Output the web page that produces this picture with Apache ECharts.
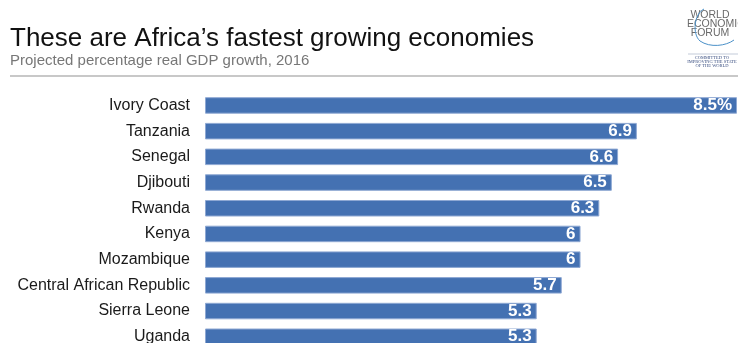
<!DOCTYPE html>
<html>
<head>
<meta charset="utf-8">
<script src="https://cdn.jsdelivr.net/npm/echarts@6/dist/echarts.min.js"></script>
<style>
html,body{margin:0;padding:0;background:#fff;}
#chart{width:738px;height:343px;}
</style>
</head>
<body>
<div id="chart"></div>
<script>
const countries = ["Ivory Coast","Tanzania","Senegal","Djibouti","Rwanda","Kenya","Mozambique","Central African Republic","Sierra Leone","Uganda"];
const growth = [8.5, 6.9, 6.6, 6.5, 6.3, 6, 6, 5.7, 5.3, 5.3];
const titleText = "These are Africa\u2019s fastest growing economies";
const subtitleText = "Projected percentage real GDP growth, 2016";

const chart = echarts.init(document.getElementById('chart'), null, {renderer:'canvas'});
const font = '"Liberation Sans", Arial, Helvetica, sans-serif';
const serif = '"Liberation Serif", serif';
chart.setOption({
  animation:false,
  backgroundColor:'#ffffff',
  textStyle:{fontFamily:font},
  grid:{left:205, width:532, top:92.6, height:257, containLabel:false, outerBoundsMode:'none'},
  xAxis:{type:'value', min:0, max:8.5, show:false},
  yAxis:{type:'category', data:countries, inverse:true,
    axisLine:{show:false}, axisTick:{show:false}, splitLine:{show:false},
    axisLabel:{fontSize:16, color:'#1a1a1a', margin:15, fontFamily:font}},
  series:[{
    type:'bar', data:growth, barWidth:16.5,
    itemStyle:{color:'#4471b2', borderColor:'#8ea8d3', borderWidth:1},
    label:{show:true, position:'insideRight', distance:5, color:'#ffffff',
      fontSize:17, fontWeight:'bold', fontFamily:font,
      formatter:function(p){return p.dataIndex===0 ? p.value+'%' : String(p.value);}}
  }],
  graphic:{elements:[
    {type:'text', x:10, y:26, style:{text:titleText, fontSize:26, fill:'#111', fontFamily:font, verticalAlign:'top'}},
    {type:'text', x:10, y:53, style:{text:subtitleText, fontSize:15, fill:'#777', fontFamily:font, verticalAlign:'top'}},
    {type:'line', shape:{x1:10, y1:76, x2:738, y2:76}, style:{stroke:'#c8c8c8', lineWidth:2}},
    {type:'text', x:710, y:15, style:{text:'WORLD', fontSize:10.5, fill:'#6a6a6a', fontFamily:font, align:'center', verticalAlign:'middle'}},
    {type:'text', x:687, y:24, style:{text:'ECONOMIC', fontSize:10.5, fill:'#6a6a6a', fontFamily:font, align:'left', verticalAlign:'middle'}},
    {type:'text', x:710, y:33, style:{text:'FORUM', fontSize:10.5, fill:'#6a6a6a', fontFamily:font, align:'center', verticalAlign:'middle'}},
    {type:'bezierCurve', shape:{x1:704, y1:9, cpx1:694, cpy1:14, cpx2:692, cpy2:34, x2:700, y2:41}, style:{fill:null, stroke:'#4a90c8', lineWidth:1}},
    {type:'bezierCurve', shape:{x1:700, y1:41, cpx1:710, cpy1:48, cpx2:726, cpy2:46, x2:734, y2:40}, style:{fill:null, stroke:'#4a90c8', lineWidth:1}},
    {type:'line', shape:{x1:688, y1:54, x2:738, y2:54}, style:{stroke:'#9aa8c0', lineWidth:0.6}},
    {type:'text', x:712, y:58, style:{text:'COMMITTED TO', fontSize:4.5, fill:'#3a4f80', fontFamily:serif, align:'center', verticalAlign:'middle'}},
    {type:'text', x:712, y:62, style:{text:'IMPROVING THE STATE', fontSize:4.5, fill:'#3a4f80', fontFamily:serif, align:'center', verticalAlign:'middle'}},
    {type:'text', x:712, y:66, style:{text:'OF THE WORLD', fontSize:4.5, fill:'#3a4f80', fontFamily:serif, align:'center', verticalAlign:'middle'}}
  ]}
});
</script>
</body>
</html>
